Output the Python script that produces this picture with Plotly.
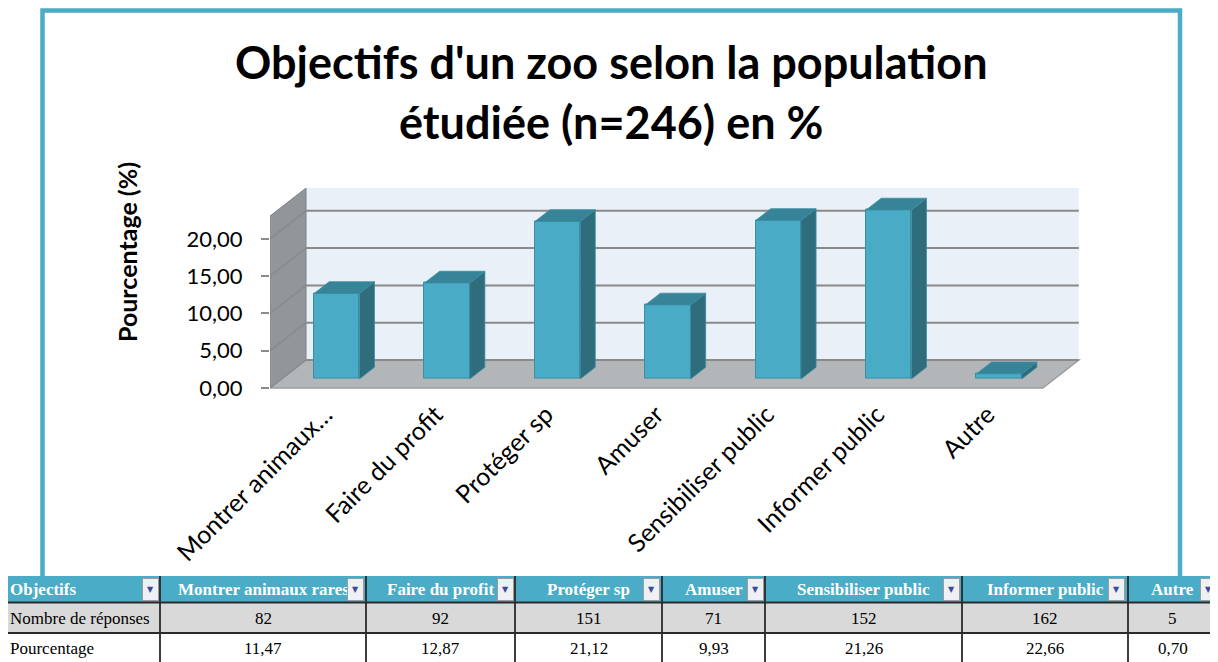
import plotly.graph_objects as go

# ---------------- data ----------------
axis_labels = ["Montrer animaux…", "Faire du profit", "Protéger sp", "Amuser",
               "Sensibiliser public", "Informer public", "Autre"]
table_headers = ["Montrer animaux rares", "Faire du profit", "Protéger sp", "Amuser",
                 "Sensibiliser public", "Informer public", "Autre"]
responses = [82, 92, 151, 71, 152, 162, 5]
percentages = [11.47, 12.87, 21.12, 9.93, 21.26, 22.66, 0.70]
y_ticks = [0, 5, 10, 15, 20]
y_tick_text = ["0,00", "5,00", "10,00", "15,00", "20,00"]

# ---------------- geometry (pixels, in page coordinates) ----------------
OFF = 8                            # page body margin
W, H = 1218 - OFF, 662 - OFF
X0_PX, X_PER = 270.0, 110.4        # x=-0.5 at 270 px, px per category
Y0_PX, Y_PER = 388.0, 7.46         # y=0 at 388 px, px per unit
XMIN, XMAX = -0.5, 6.85
YMIN, YMAX = -0.54, 27.0
DX, DY = 36 / X_PER, 28 / Y_PER    # depth vector (data units)
WALL_TOP = 23.05
F0, FD, BW = 0.32, 0.42, 0.41      # bar depth start, bar depth, bar width

x_left_px = X0_PX + (XMIN + 0.5) * X_PER
x_right_px = X0_PX + (XMAX + 0.5) * X_PER
y_bot_px = Y0_PX - YMIN * Y_PER
y_top_px = Y0_PX - YMAX * Y_PER

BAR_FRONT = "#4aabc6"
BAR_SIDE = "#2f6c7c"
BAR_TOP = "#378498"
BAR_EDGE = "#3b8ea5"
GRID = "#8a8a8a"


def px(x):
    return (x - OFF) / W


def py(y):
    return 1 - (y - OFF) / H


fig = go.Figure()
shapes = []


def poly(pts, fill, line_color=None, lw=0, layer="below", xref="x", yref="y"):
    p = "M " + " L ".join(f"{x},{y}" for x, y in pts) + " Z"
    shapes.append(dict(type="path", path=p, xref=xref, yref=yref, fillcolor=fill,
                       line=dict(color=line_color or fill, width=lw), layer=layer))


def seg(x0, y0, x1, y1, color, w, layer="below", xref="x", yref="y"):
    shapes.append(dict(type="line", x0=x0, y0=y0, x1=x1, y1=y1, xref=xref, yref=yref,
                       line=dict(color=color, width=w), layer=layer))


# back wall
poly([(-0.5 + DX, DY), (6.5 + DX, DY), (6.5 + DX, WALL_TOP + DY), (-0.5 + DX, WALL_TOP + DY)],
     "#e9f0f7")
# left wall
poly([(-0.5, 0), (-0.5 + DX, DY), (-0.5 + DX, WALL_TOP + DY), (-0.5, WALL_TOP)],
     "#91969a", "#7f8488", 1)
# floor
poly([(-0.5, 0), (6.5, 0), (6.5 + DX, DY), (-0.5 + DX, DY)], "#b3b6b9", "#9a9da0", 1.5)
# gridlines
for v in y_ticks:
    seg(-0.5 + DX, v + DY, 6.5 + DX, v + DY, GRID, 2)
    seg(-0.5, v, -0.5 + DX, v + DY, GRID, 1.5)

# front faces via bar trace
xc = [i + F0 * DX for i in range(len(percentages))]
fig.add_trace(go.Bar(x=xc, y=percentages, base=[F0 * DY] * len(percentages), width=BW,
                     marker=dict(color=BAR_FRONT, line=dict(color=BAR_EDGE, width=1)),
                     hoverinfo="skip", showlegend=False))
# side and top faces
for i, v in enumerate(percentages):
    x0, x1 = xc[i] - BW / 2, xc[i] + BW / 2
    yb = F0 * DY
    yt = yb + v
    ox, oy = FD * DX, FD * DY
    poly([(x1, yb), (x1 + ox, yb + oy), (x1 + ox, yt + oy), (x1, yt)], BAR_SIDE, BAR_EDGE, 0.8,
         layer="above")
    poly([(x0, yt), (x1, yt), (x1 + ox, yt + oy), (x0 + ox, yt + oy)], BAR_TOP, BAR_EDGE, 0.8,
         layer="above")

# outer border
shapes.append(dict(type="rect", xref="paper", yref="paper", x0=px(42.5), x1=px(1180),
                   y0=py(10.5), y1=py(600), line=dict(color="#4bacc6", width=4.5),
                   fillcolor="rgba(0,0,0,0)", layer="below"))

# ---------------- table ----------------
col_edges = [5, 160, 366, 515, 662, 765, 962, 1128, 1217]
row_edges = [576, 602.5, 633, 690]
dd_left = [142, 347, 497, 643, 747, 943, 1108, 1200]
HEAD = "#4aacc6"
row_fills = [HEAD, "#d9d9d9", "#ffffff"]

for r in range(3):
    poly([(px(col_edges[0]), py(row_edges[r])), (px(1240), py(row_edges[r])),
          (px(1240), py(row_edges[r + 1])), (px(col_edges[0]), py(row_edges[r + 1]))],
         row_fills[r], layer="above", xref="paper", yref="paper")
for ry in row_edges[1:3]:
    seg(px(col_edges[0]), py(ry), px(1240), py(ry), "#2a2a2a", 2, layer="above",
        xref="paper", yref="paper")
for cx in col_edges[1:-1]:
    seg(px(cx), py(row_edges[0]), px(cx), py(row_edges[3]), "#2a2a2a", 1.8, layer="above",
        xref="paper", yref="paper")

annotations = []
SERIF = "Liberation Serif"


def ann(x, y, text, size, color="black", bold=False, xanchor="center", family=SERIF, **kw):
    if bold:
        text = f"<b>{text}</b>"
    d = dict(x=px(x), y=py(y), xref="paper", yref="paper", text=text, showarrow=False,
             xanchor=xanchor, yanchor="middle", font=dict(family=family, size=size, color=color))
    d.update(kw)
    annotations.append(d)


centers = [(col_edges[j + 1] + col_edges[j + 2]) / 2 for j in range(len(table_headers))]
ann(8, 589, "Objectifs", 17, "white", True, "left")
for j, h in enumerate(table_headers):
    ann(centers[j], 589, h, 17, "white", True)
for d in dd_left:
    ann(d, 589, "▼", 8, "#3b4a9c", False, "left", family="DejaVu Sans",
        bgcolor="#eef0f4", bordercolor="#9c9c9c", borderwidth=1, width=13, height=19)
ann(8, 618, "Nombre de réponses", 17, xanchor="left")
ann(8, 648, "Pourcentage", 17, xanchor="left")
for j in range(len(responses)):
    ann(centers[j], 618, str(responses[j]), 17)
    ann(centers[j], 648, f"{percentages[j]:.2f}".replace(".", ","), 17)

# title and axis title
ann(611, 62, "Objectifs d'un zoo selon la population", 45, bold=True, family="Lato")
ann(611, 122, "étudiée (n=246) en %", 45, bold=True, family="Lato")
ann(127, 252, "Pourcentage (%)", 25, bold=True, family="Lato", textangle=-90)

fig.update_layout(
    width=W, height=H,
    margin=dict(l=0, r=0, t=0, b=0, autoexpand=False),
    paper_bgcolor="white", plot_bgcolor="rgba(0,0,0,0)",
    shapes=shapes, annotations=annotations,
    bargap=0,
    xaxis=dict(range=[XMIN, XMAX], domain=[px(x_left_px), px(x_right_px)],
               automargin=False,
               showgrid=False, zeroline=False, showline=False, ticks="",
               tickvals=list(range(len(axis_labels))), ticktext=axis_labels,
               tickangle=-45, tickfont=dict(family="Lato", size=25, color="black"),
               ticklabelstandoff=2, fixedrange=True),
    yaxis=dict(range=[YMIN, YMAX], domain=[py(y_bot_px), py(y_top_px)],
               automargin=False,
               showgrid=False, zeroline=False, showline=False,
               tickvals=y_ticks, ticktext=y_tick_text, ticks="outside", ticklen=8,
               tickcolor=GRID, tickwidth=2,
               tickfont=dict(family="Lato", size=22, color="black"),
               ticklabelstandoff=14, fixedrange=True),
)

fig.write_html("out.html")
